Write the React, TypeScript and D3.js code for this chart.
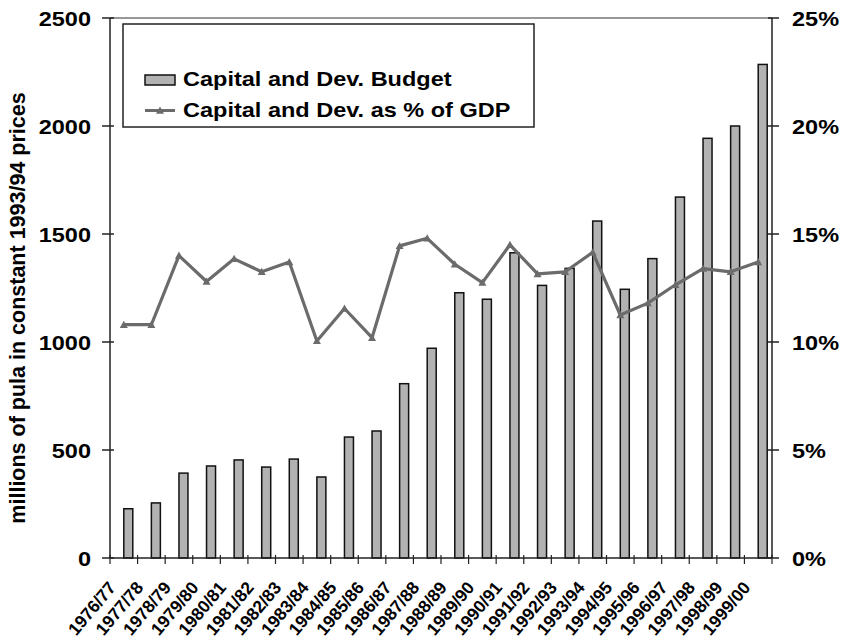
import React from "react";
import * as d3 from "d3";

const categories = ["1976/77","1977/78","1978/79","1979/80","1980/81","1981/82","1982/83","1983/84","1984/85","1985/86","1986/87","1987/88","1988/89","1989/90","1990/91","1991/92","1992/93","1993/94","1994/95","1995/96","1996/97","1997/98","1998/99","1999/00"];
const budget = [228,255,393,426,454,421,458,375,560,588,807,971,1228,1198,1413,1262,1341,1560,1244,1386,1671,1943,2000,2285];
const gdpPct = [10.8,10.8,14.0,12.8,13.85,13.25,13.7,10.05,11.55,10.2,14.45,14.8,13.6,12.75,14.5,13.15,13.25,14.15,11.25,11.8,12.65,13.4,13.25,13.7];
const leftTicks = [0,500,1000,1500,2000,2500];
const rightTicks = [0,5,10,15,20,25];

const W = 842, H = 643;
const L = 110, R = 772, T = 18, B = 558;
const SX = 1.12;

function HText(props: { x: number; y: number; anchor?: string; size: number; children: React.ReactNode; dy?: string }) {
  return (
    <text transform={`translate(${props.x},${props.y}) scale(${SX},1)`} textAnchor={props.anchor || "start"} dy={props.dy} fontSize={props.size} fontWeight="bold">
      {props.children}
    </text>
  );
}

export default function App() {
  const x = d3.scaleBand<string>().domain(categories).range([L, R]).padding(0);
  const y = d3.scaleLinear().domain([0, 2500]).range([B, T]);
  const y2 = d3.scaleLinear().domain([0, 25]).range([B, T]);
  const cx = (c: string) => (x(c) as number) + x.bandwidth() / 2;
  const barW = 9;
  const line = d3.line<number>().x((_, i) => cx(categories[i])).y(d => y2(d));
  const font = "'Liberation Sans', Arial, sans-serif";
  const tri = (px: number, py: number, s = 4) => `M${px},${py - s}L${px + s},${py + s * 0.8}L${px - s},${py + s * 0.8}Z`;
  return (
    <svg width={W} height={H} style={{ position: "absolute", left: 0, top: 0, background: "#fff" }} fontFamily={font}>
      <line x1={L} x2={R} y1={T} y2={T} stroke="#333" strokeWidth={1.2} />
      {categories.map((c, i) => (
        <rect key={c} x={cx(c)} y={y(budget[i])} width={barW} height={B - y(budget[i])} fill="#b2b2b2" stroke="#111" strokeWidth={1.5} />
      ))}
      <path d={line(gdpPct) || ""} fill="none" stroke="#6b6b6b" strokeWidth={3.2} strokeLinejoin="round" />
      {gdpPct.map((v, i) => (
        <path key={i} d={tri(cx(categories[i]), y2(v))} fill="#6b6b6b" />
      ))}
      <line x1={L} x2={L} y1={T} y2={B} stroke="#222" strokeWidth={1.5} />
      {leftTicks.map(t => (
        <g key={t}>
          <line x1={L - 8} x2={L + 4} y1={y(t)} y2={y(t)} stroke="#222" strokeWidth={1.5} />
          <HText x={L - 19} y={y(t)} dy="0.36em" anchor="end" size={21}>{t}</HText>
        </g>
      ))}
      <line x1={R} x2={R} y1={T} y2={B} stroke="#222" strokeWidth={1.5} />
      {rightTicks.map(t => (
        <g key={t}>
          <line x1={R - 4} x2={R + 7} y1={y2(t)} y2={y2(t)} stroke="#222" strokeWidth={1.5} />
          <HText x={R + 20} y={y2(t)} dy="0.36em" size={21}>{t}%</HText>
        </g>
      ))}
      <line x1={L} x2={R} y1={B} y2={B} stroke="#222" strokeWidth={1.5} />
      {categories.map(c => (
        <line key={"t" + c} x1={x(c) as number} x2={x(c) as number} y1={B - 3} y2={B + 6} stroke="#222" strokeWidth={1.2} />
      ))}
      <line x1={R} x2={R} y1={B - 3} y2={B + 6} stroke="#222" strokeWidth={1.2} />
      {categories.map(c => (
        <text key={"l" + c} transform={`translate(${cx(c) - 7},${B + 30}) rotate(-50)`} textAnchor="end" fontSize={17.5} fontWeight="bold">{c}</text>
      ))}
      <text transform={`translate(25,${308}) rotate(-90)`} textAnchor="middle" fontSize={21.5} fontWeight="bold">millions of pula in constant 1993/94 prices</text>
      <rect x={123} y={24} width={411} height={103} fill="#fff" stroke="#222" strokeWidth={1.5} />
      <rect x={145} y={75} width={30} height={10} fill="#b2b2b2" stroke="#111" strokeWidth={1.5} />
      <HText x={183} y={86} size={21}>Capital and Dev. Budget</HText>
      <line x1={145} x2={175} y1={110.5} y2={110.5} stroke="#6b6b6b" strokeWidth={3} />
      <path d={tri(160, 110.5)} fill="#6b6b6b" />
      <HText x={183} y={117} size={21}>Capital and Dev. as % of GDP</HText>
    </svg>
  );
}
